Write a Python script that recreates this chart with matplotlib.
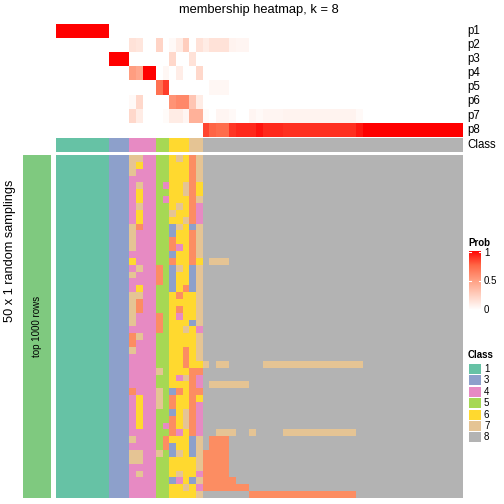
import numpy as np
import matplotlib
matplotlib.use('Agg')
import matplotlib.pyplot as plt
from matplotlib.colors import ListedColormap, LinearSegmentedColormap

plt.rcParams['font.family'] = ['Liberation Sans', 'DejaVu Sans']

# membership probabilities, one list per class (61 samples, ordered by class)
#        class1           class3  class4         class5    class6          class7    class8 (39)
p1 = [1, 1, 1, 1, 1, 1, 1, 1, 0, 0, 0, 0, 0, 0, 0, 0, 0, 0, 0, 0, 0, 0,
      0, 0, 0, 0, 0, 0, 0, 0, 0, 0, 0, 0, 0, 0, 0, 0, 0, 0, 0, 0,
      0, 0, 0, 0, 0, 0, 0, 0, 0, 0, 0, 0, 0, 0, 0, 0, 0, 0, 0]
p2 = [0, 0, 0, 0, 0, 0, 0, 0, 0, 0, 0, .15, .13, 0, 0, .22, 0, .03, .10, .25, 0, .15,
      .10, .15, .15, .15, .06, .05, .05, 0, 0, 0, 0, 0, 0, 0, 0, 0, 0, 0, 0, 0,
      0, 0, 0, 0, 0, 0, 0, 0, 0, 0, 0, 0, 0, 0, 0, 0, 0, 0, 0]
p3 = [0, 0, 0, 0, 0, 0, 0, 0, 1, 1, 1, 0, 0, 0, 0, 0, 0, .20, 0, 0, .15, 0,
      0, 0, 0, 0, 0, 0, 0, 0, 0, 0, 0, 0, 0, 0, 0, 0, 0, 0, 0, 0,
      0, 0, 0, 0, 0, 0, 0, 0, 0, 0, 0, 0, 0, 0, 0, 0, 0, 0, 0]
p4 = [0, 0, 0, 0, 0, 0, 0, 0, 0, 0, 0, .50, .45, 1, 1, 0, .04, 0, .09, 0, 0, .20,
      0, 0, 0, 0, 0, 0, 0, 0, 0, 0, 0, 0, 0, 0, 0, 0, 0, 0, 0, 0,
      0, 0, 0, 0, 0, 0, 0, 0, 0, 0, 0, 0, 0, 0, 0, 0, 0, 0, 0]
p5 = [0, 0, 0, 0, 0, 0, 0, 0, 0, 0, 0, 0, 0, 0, 0, .70, .85, 0, 0, 0, 0, 0,
      0, .04, .04, .04, 0, 0, 0, 0, 0, 0, 0, 0, 0, 0, 0, 0, 0, 0, 0, 0,
      0, 0, 0, 0, 0, 0, 0, 0, 0, 0, 0, 0, 0, 0, 0, 0, 0, 0, 0]
p6 = [0, 0, 0, 0, 0, 0, 0, 0, 0, 0, 0, .03, .20, 0, 0, 0, 0, .55, .60, .60, .30, .10,
      0, 0, 0, 0, 0, 0, 0, 0, 0, 0, 0, 0, 0, 0, 0, 0, 0, 0, 0, 0,
      0, 0, 0, 0, 0, 0, 0, 0, 0, 0, 0, 0, 0, 0, 0, 0, 0, 0, 0]
p7 = [0, 0, 0, 0, 0, 0, 0, 0, 0, 0, 0, .20, .10, 0, 0, 0, .02, .10, .10, .05, .40, .40,
      .02, 0, .05, .05, .03, 0, 0, .05, .03, .05, .05, .05, .06, .06, .06, .06, .06, .06, .06, .06,
      .06, .06, .06, .03, 0, 0, 0, 0, 0, 0, 0, 0, 0, 0, 0, 0, 0, 0, 0]
p8 = [0, 0, 0, 0, 0, 0, 0, 0, 0, 0, 0, 0, 0, 0, 0, 0, 0, 0, 0, 0, 0, 0,
      .83, .75, .72, .72, .87, .90, .90, .90, .95, .90, .90, .90, .88, .88, .88, .88, .88, .88, .88, .88,
      .88, .88, .88, .94, 1, 1, 1, 1, 1, 1, 1, 1, 1, 1, 1, 1, 1, 1, 1]
prob_labels = ['p1', 'p2', 'p3', 'p4', 'p5', 'p6', 'p7', 'p8']

class_row = [1, 1, 1, 1, 1, 1, 1, 1, 3, 3, 3, 4, 4, 4, 4, 5, 5, 6, 6, 6, 7, 7,
             8, 8, 8, 8, 8, 8, 8, 8, 8, 8, 8, 8, 8, 8, 8, 8, 8, 8, 8, 8,
             8, 8, 8, 8, 8, 8, 8, 8, 8, 8, 8, 8, 8, 8, 8, 8, 8, 8, 8]

# class calls in the 50 random samplings: first 11 samples always agree,
# then samples 12-22 and the class-8 block (39 samples)
fixed_part = "11111111333"
mid_part = [
    "77445567627", "76445566627", "74445566627", "44445566627", "47445466726",
    "46445566726", "46445466627", "47445567624", "46445576624", "46445566724",
    "72445537637", "74445536627", "74445526627", "74445524627", "44445536627",
    "64445526626", "47442537637", "74442536637", "44442536637", "46445536237",
    "77445562667", "72445566667", "72445562667", "74442564667", "74442566637",
    "44442566764", "27445566667", "24445566667", "74445566267", "44445566267",
    "44445566266", "44447566622", "44445564724", "44445566624", "24447532622",
    "46447526626", "46447526624", "46445536724", "46445526724", "46445426724",
    "44445524624", "74445266637", "44445236637", "77447537637", "77445566667",
    "44445566667", "47445567664", "44445534637", "44445566764", "44445566667",
]
tail_part = [
    "888888888888888888888888888888888888888", "888888888888888888888888888888888888888",
    "888888888888888888888888888888888888888", "888888888888888888888888888888888888888",
    "888888888888888888888888888888888888888", "888888888888888888888888888888888888888",
    "888888888888888888888888888888888888888", "888888888888888888888888888888888888888",
    "888888888888888888888888888888888888888", "888888888888888888888888888888888888888",
    "888888888888888888888888888888888888888", "888888888888888888888888888888888888888",
    "888888888888888888888888888888888888888", "888888888888888888888888888888888888888",
    "888888888888888888888888888888888888888", "877788888888888888888888888888888888888",
    "888888888888888888888888888888888888888", "888888888888888888888888888888888888888",
    "888888888888888888888888888888888888888", "888888888888888888888888888888888888888",
    "888888888888888888888888888888888888888", "888888888888888888888888888888888888888",
    "888888888888888888888888888888888888888", "888888888888888888888888888888888888888",
    "888888888888888888888888888888888888888", "888888888888888888888888888888888888888",
    "888888888888888888888888888888888888888", "888888888888888888888888888888888888888",
    "888888888888888888888888888888888888888", "888888888888888888888888888888888888888",
    "787788888777777777777777888888888888888", "888888888888888888888888888888888888888",
    "888888888888888888888888888888888888888", "877777788888888888888888888888888888888",
    "888888888888888888888888888888888888888", "888888888888888888888888888888888888888",
    "888888888888888888888888888888888888888", "888888888888888888888888888888888888888",
    "888888888888888888888888888888888888888", "888888888888888888888888888888888888888",
    "887778878888777777777778888888888888888", "822288888888888888888888888888888888888",
    "822288888888888888888888888888888888888", "222288888888888888888888888888888888888",
    "222288888888888888888888888888888888888", "222288888888888888888888888888888888888",
    "222288888888888888888888888888888888888", "222228888888888888888888888888888888888",
    "222222288888888888888888888888888888888", "888888822222222222222228888888888888888",
]

class_colors = ['#66C2A5', '#FC8D62', '#8DA0CB', '#E78AC3',
                '#A6D854', '#FFD92F', '#E5C494', '#B3B3B3']
legend_classes = [1, 3, 4, 5, 6, 7, 8]

prob = np.array([p1, p2, p3, p4, p5, p6, p7, p8], dtype=float)
samplings = np.array([[int(c) for c in fixed_part + m + t]
                      for m, t in zip(mid_part, tail_part)])

prob_cmap = LinearSegmentedColormap.from_list(
    'wr', ['#FFFFFF', '#FFCFBF', '#FF9E81', '#FF6746', '#FF0000'])
class_cmap = ListedColormap(class_colors)

W = H = 504
fig = plt.figure(figsize=(5.04, 5.04), dpi=100)


def px_axes(x0, y0, x1, y1):
    ax = fig.add_axes([x0 / W, 1 - y1 / H, (x1 - x0) / W, (y1 - y0) / H])
    ax.set_axis_off()
    return ax


left, right = 56, 462.7

# top: membership probabilities
ax = px_axes(left, 24, right, 136.7)
ax.imshow(prob, cmap=prob_cmap, vmin=0, vmax=1, aspect='auto', interpolation='nearest')
row_h = (136.7 - 24) / len(prob_labels)
for i, lab in enumerate(prob_labels):
    fig.text(467 / W, 1 - (24 + (i + 0.5) * row_h) / H, lab, fontsize=8.3, va='center', ha='left')

# class annotation
ax = px_axes(left, 137.7, right, 152)
ax.imshow(np.array([class_row]) - 1, cmap=class_cmap, vmin=-0.5, vmax=7.5,
          aspect='auto', interpolation='nearest')
fig.text(467 / W, 1 - 145 / H, 'Class', fontsize=8.3, va='center', ha='left')

# bottom: class calls per sampling
ax = px_axes(left, 155, right, 498)
ax.imshow(samplings - 1, cmap=class_cmap, vmin=-0.5, vmax=7.5,
          aspect='auto', interpolation='nearest')

# row split annotation
ax = px_axes(23, 155, 51, 498)
ax.add_patch(plt.Rectangle((0, 0), 1, 1, color='#7FC97F', transform=ax.transAxes))
ax.text(0.5, 0.5, 'top 1000 rows', rotation=90, fontsize=7, ha='center', va='center',
        transform=ax.transAxes)
fig.text(10 / W, 1 - 251 / H, '50 x 1 random samplings', rotation=90, fontsize=9.2,
         ha='center', va='center')

fig.text(259 / W, 1 - 10 / H, 'membership heatmap, k = 8', fontsize=9.3, ha='center', va='center')

# legends
fig.text(468 / W, 1 - 243 / H, 'Prob', fontsize=7, fontweight='bold', va='center', ha='left')
ax = px_axes(469, 251, 481, 310)
ax.imshow(np.linspace(1, 0, 200)[:, None], cmap=prob_cmap, vmin=0, vmax=1,
          aspect='auto', extent=[0, 1, 0, 1])
ax.set_xlim(0, 1)
ax.set_ylim(0, 1)
for v in [1, 0.5, 0]:
    yy = 0.97 * v + 0.01
    ax.plot([0, 0.2], [yy, yy], color='white', lw=0.8)
    ax.plot([0.8, 1], [yy, yy], color='white', lw=0.8)
    fig.text(484 / W, 1 - (310 - 57 * v) / H, f'{v:g}', fontsize=7, va='center', ha='left')

fig.text(468 / W, 1 - 355 / H, 'Class', fontsize=7, fontweight='bold', va='center', ha='left')
for i, c in enumerate(legend_classes):
    yc = 369 + i * 11.4
    ax = px_axes(469, yc - 5, 481, yc + 5)
    ax.add_patch(plt.Rectangle((0, 0), 1, 1, color=class_colors[c - 1], transform=ax.transAxes))
    fig.text(484 / W, 1 - yc / H, str(c), fontsize=7, va='center', ha='left')

fig.savefig('out.png', dpi=100)
